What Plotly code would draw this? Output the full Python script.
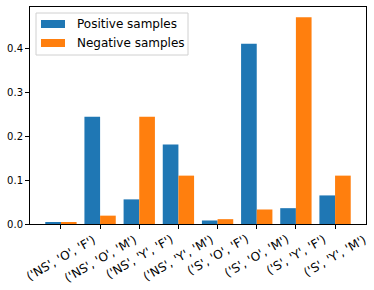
import plotly.graph_objects as go

categories = ["('NS', 'O', 'F')", "('NS', 'O', 'M')", "('NS', 'Y', 'F')", "('NS', 'Y', 'M')",
              "('S', 'O', 'F')", "('S', 'O', 'M')", "('S', 'Y', 'F')", "('S', 'Y', 'M')"]
positive = [0.004, 0.244, 0.056, 0.181, 0.008, 0.410, 0.036, 0.065]
negative = [0.004, 0.019, 0.244, 0.110, 0.011, 0.033, 0.470, 0.110]
series_names = ["Positive samples", "Negative samples"]
series_colors = ["#1f77b4", "#ff7f0e"]
y_ticks = [0.0, 0.1, 0.2, 0.3, 0.4]

W, H = 374, 290
L, R, T, B = 30, 8, 7, 66
PW, PH = W - L - R, H - T - B


def px(x):
    return (x - L) / PW


def py(y):
    return (H - B - y) / PH


fig = go.Figure()
for name, vals, col in zip(series_names, [positive, negative], series_colors):
    fig.add_trace(go.Bar(x=categories, y=vals, name=name,
                         marker=dict(color=col, line=dict(width=0))))

ymax = max(max(positive), max(negative)) * 1.05

shapes = [dict(type="rect", xref="paper", yref="paper",
               x0=px(36), x1=px(188), y0=py(55), y1=py(13),
               line=dict(color="#d0d0d0", width=1), fillcolor="rgba(255,255,255,0.8)", layer="above")]
annotations = []
for i, (name, col) in enumerate(zip(series_names, series_colors)):
    cy = 24 + 19 * i
    shapes.append(dict(type="rect", xref="paper", yref="paper",
                       x0=px(41), x1=px(65), y0=py(cy + 4), y1=py(cy - 4),
                       line=dict(width=0), fillcolor=col, layer="above"))
    annotations.append(dict(text=name, xref="paper", yref="paper", x=px(75), y=py(cy),
                            xanchor="left", yanchor="middle", showarrow=False,
                            font=dict(size=12, family="DejaVu Sans", color="black")))

for c in categories:
    annotations.append(dict(text=c, xref="x", yref="paper", x=c, y=0, yshift=-7,
                            xanchor="center", yanchor="top", textangle=-30, showarrow=False,
                            borderpad=0,
                            font=dict(size=12, family="DejaVu Sans", color="black")))

fig.update_layout(
    width=W, height=H,
    margin=dict(l=L, r=R, t=T, b=B, autoexpand=False),
    paper_bgcolor="white", plot_bgcolor="white",
    barmode="group", bargap=0.2, bargroupgap=0,
    font=dict(family="DejaVu Sans", color="black", size=12),
    showlegend=False,
    shapes=shapes, annotations=annotations,
)
fig.update_xaxes(
    type="category", range=[-0.79, len(categories) - 1 + 0.79],
    showticklabels=False, automargin=False,
    showline=True, linecolor="black", linewidth=1, mirror=True,
    ticks="outside", ticklen=4, tickcolor="black", showgrid=False,
)
fig.update_yaxes(
    range=[0, ymax], tickvals=y_ticks, ticktext=[f"{v:.1f}" for v in y_ticks],
    tickfont=dict(size=10), automargin=False,
    showline=True, linecolor="black", linewidth=1, mirror=True,
    ticks="outside", ticklen=4, tickcolor="black", showgrid=False, zeroline=False,
)
fig.write_html("out.html", config={"displayModeBar": False},
               post_script="document.body.style.margin='0px';")
